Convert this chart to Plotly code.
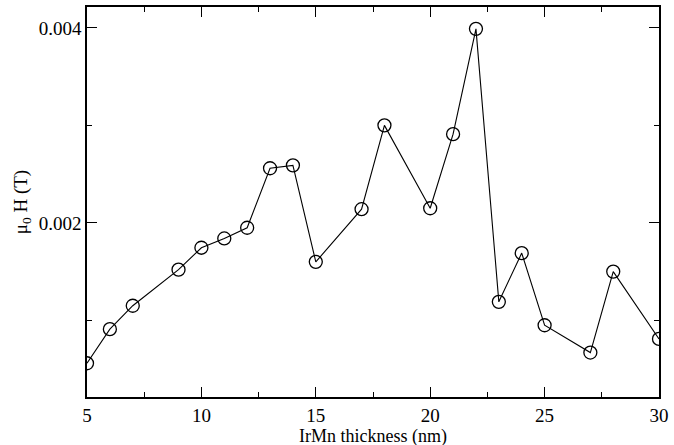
import plotly.graph_objects as go

thickness = [5, 6, 7, 9, 10, 11, 12, 13, 14, 15, 17, 18, 20, 21, 22, 23, 24, 25, 27, 28, 30]
field = [0.00056, 0.00091, 0.00115, 0.00152, 0.001745, 0.00184, 0.00195, 0.00256, 0.00259,
         0.00160, 0.00214, 0.00300, 0.00215, 0.00291, 0.00399, 0.00119, 0.00169, 0.00095,
         0.00067, 0.00150, 0.00081]

fig = go.Figure()
fig.add_trace(go.Scatter(
    x=thickness, y=field, mode="lines+markers",
    line=dict(color="black", width=1.1),
    marker=dict(symbol="circle-open", size=13, color="black", line=dict(width=1.3)),
    showlegend=False,
))

fam = "Liberation Serif, Times New Roman, serif"
tickfont = dict(family=fam, size=19, color="black")
titlefont = dict(family=fam, size=18, color="black")

fig.update_layout(
    width=674, height=445,
    margin=dict(l=87, r=15, t=5, b=48),
    paper_bgcolor="white", plot_bgcolor="white",
    font=tickfont,
    annotations=[dict(
        text="IrMn thickness (nm)", xref="paper", yref="paper",
        x=0.5, y=-40 / 392, xanchor="center", yanchor="middle",
        showarrow=False, font=titlefont,
    )],
)
fig.update_xaxes(
    range=[5, 30], tickvals=[5, 10, 15, 20, 25, 30],
    ticks="inside", ticklen=10, tickwidth=1, tickcolor="black",
    minor=dict(dtick=2.5, tick0=5, ticks="inside", ticklen=5, tickcolor="black", showgrid=False),
    showline=True, linecolor="black", linewidth=1.5, mirror="allticks",
    showgrid=False, zeroline=False,
    tickfont=tickfont,
)
fig.update_yaxes(
    range=[0.000214, 0.004214], tickvals=[0.002, 0.004], ticktext=["0.002", "0.004"],
    ticks="inside", ticklen=10, tickwidth=1, tickcolor="black",
    minor=dict(dtick=0.001, tick0=0, ticks="inside", ticklen=5, tickcolor="black", showgrid=False),
    showline=True, linecolor="black", linewidth=1.5, mirror="allticks",
    showgrid=False, zeroline=False,
    title=dict(text="μ<sub>0</sub> H (T)", standoff=6, font=dict(family=fam, size=19, color="black")),
    tickfont=tickfont,
)

fig.write_html("out.html")
